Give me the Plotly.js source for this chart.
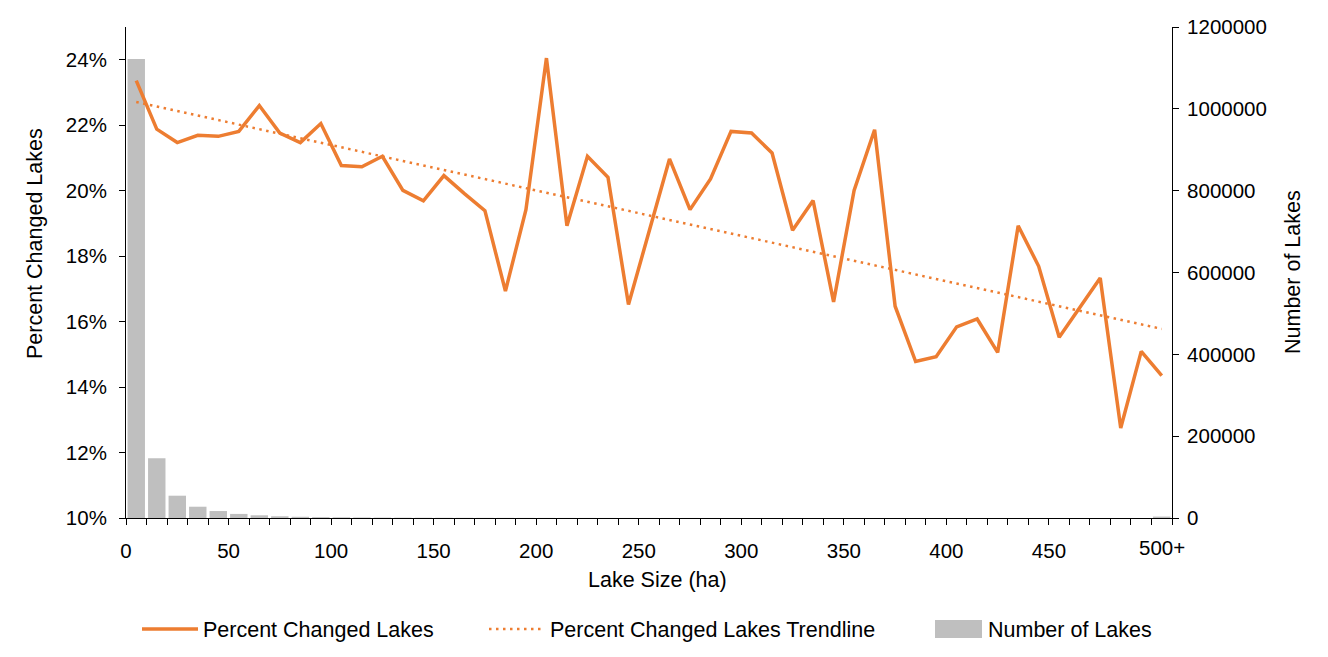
<!DOCTYPE html>
<html>
<head>
<meta charset="utf-8">
<script src="https://cdn.plot.ly/plotly-3.0.1.min.js"></script>
<style>
  html, body { margin: 0; padding: 0; background: #fff; }
  #chart { width: 1328px; height: 657px; }
</style>
</head>
<body>
<div id="chart"></div>
<script>
// ---- Data ----
// Lake size bins (ha): bin centres; last bin is "500+"
const binCenters = [5, 15, 25, 35, 45, 55, 65, 75, 85, 95,
  105, 115, 125, 135, 145, 155, 165, 175, 185, 195,
  205, 215, 225, 235, 245, 255, 265, 275, 285, 295,
  305, 315, 325, 335, 345, 355, 365, 375, 385, 395,
  405, 415, 425, 435, 445, 455, 465, 475, 485, 495, 505];

// Percent of lakes changed (%)
const percentChanged = [23.36, 21.88, 21.47, 21.69, 21.66, 21.81, 22.60, 21.76, 21.47, 22.05,
  20.77, 20.73, 21.05, 20.01, 19.69, 20.46, 19.91, 19.39, 16.93, 19.42,
  24.05, 18.93, 21.05, 20.41, 16.52, 18.71, 20.97, 19.42, 20.36, 21.81,
  21.76, 21.15, 18.79, 19.70, 16.60, 20.01, 21.86, 16.47, 14.78, 14.93,
  15.84, 16.08, 15.06, 18.93, 17.69, 15.52, 16.41, 17.33, 12.75, 15.09, 14.35];

// Number of lakes per bin
const numberOfLakes = [1122000, 146000, 54500, 27600, 17000, 10000, 6600, 4200, 3000, 2200,
  1700, 1300, 1000, 800, 650, 550, 460, 390, 330, 280,
  240, 210, 185, 165, 150, 135, 122, 110, 100, 92,
  85, 78, 72, 67, 62, 58, 54, 50, 47, 44,
  41, 39, 37, 35, 33, 31, 29, 28, 27, 26, 3500];

// Axis tick labels
const xTickLabels = ['0', '50', '100', '150', '200', '250', '300', '350', '400', '450', '500+'];
const xTickPositions = [0, 50, 100, 150, 200, 250, 300, 350, 400, 450, 505];
const leftTickValues = [10, 12, 14, 16, 18, 20, 22, 24];
const leftTickLabels = ['10%', '12%', '14%', '16%', '18%', '20%', '22%', '24%'];
const rightTickValues = [0, 200000, 400000, 600000, 800000, 1000000, 1200000];
const rightTickLabels = ['0', '200000', '400000', '600000', '800000', '1000000', '1200000'];

const seriesNames = ['Percent Changed Lakes', 'Percent Changed Lakes Trendline', 'Number of Lakes'];
const axisTitles = {x: 'Lake Size (ha)', left: 'Percent Changed Lakes', right: 'Number of Lakes'};

// ---- Linear trendline (least squares over bin index, as a spreadsheet would) ----
const n = percentChanged.length;
let sx = 0, sy = 0, sxx = 0, sxy = 0;
for (let i = 0; i < n; i++) {
  const xi = i + 1, yi = percentChanged[i];
  sx += xi; sy += yi; sxx += xi * xi; sxy += xi * yi;
}
const slope = (n * sxy - sx * sy) / (n * sxx - sx * sx);
const intercept = (sy - slope * sx) / n;
const trendX = [binCenters[0], binCenters[n - 1]];
const trendY = [intercept + slope * 1, intercept + slope * n];

// ---- Layout geometry ----
const W = 1328, H = 657;
const M = {l: 126, r: 156, t: 27, b: 139};
const plotW = W - M.l - M.r, plotH = H - M.t - M.b;
const px2xpaper = p => (p - M.l) / plotW;
const py2ypaper = p => (H - M.b - p) / plotH;

// X ticks every 10 units; labels only where given (the "500+" label sits mid-bin)
const xMinorTicks = [];
for (let v = 0; v <= 510; v += 10) xMinorTicks.push(v);
const xTickText = xMinorTicks.map(v => {
  const idx = xTickPositions.indexOf(v);
  return idx >= 0 ? xTickLabels[idx] : '';
});

const FONT = 'Liberation Sans, Arial, Helvetica, sans-serif';
const TICK_SIZE = 20.5, TITLE_SIZE = 21.5;
const ORANGE = '#ED7D31', GRAY = '#BFBFBF';

const traces = [
  {
    type: 'bar', name: seriesNames[2], x: binCenters, y: numberOfLakes,
    xaxis: 'x', yaxis: 'y', width: 8.5, legend: 'legend3',
    marker: {color: GRAY, line: {width: 0}}, hoverinfo: 'skip'
  },
  {
    type: 'scatter', mode: 'lines', name: seriesNames[0], x: binCenters, y: percentChanged,
    xaxis: 'x', yaxis: 'y2', legend: 'legend', line: {color: ORANGE, width: 3.5}, hoverinfo: 'skip'
  },
  {
    type: 'scatter', mode: 'lines', name: seriesNames[1], x: trendX, y: trendY,
    xaxis: 'x', yaxis: 'y2', legend: 'legend2',
    line: {color: ORANGE, width: 2.5, dash: '2.5px,4.5px'}, hoverinfo: 'skip'
  }
];

const axisLine = {showline: true, linecolor: '#000', linewidth: 1, showgrid: false, zeroline: false,
  ticks: 'outside', ticklen: 6, tickcolor: '#000', tickwidth: 1, automargin: false};

const xUnlabeled = xTickPositions[xTickPositions.length - 1];
const lastLabel = xTickLabels[xTickLabels.length - 1];

const ITEMW = 56;
const LEGEND_Y = 629;
const legendAt = (textStartPx) => ({
  orientation: 'h', xref: 'container', yref: 'container',
  x: (textStartPx - 41 - (ITEMW - 30)) / W, xanchor: 'left', y: 1 - LEGEND_Y / H, yanchor: 'middle',
  font: {size: TITLE_SIZE}, bgcolor: 'rgba(0,0,0,0)', borderwidth: 0, itemwidth: ITEMW
});

const layout = {
  width: W, height: H,
  margin: M,
  paper_bgcolor: '#fff', plot_bgcolor: '#fff',
  font: {family: FONT, color: '#000', size: TICK_SIZE},
  showlegend: true,
  barmode: 'overlay',
  xaxis: Object.assign({}, axisLine, {
    range: [0, 510], tickmode: 'array', tickvals: xMinorTicks, ticktext: xTickText,
    tickfont: {size: TICK_SIZE}, ticklabelstandoff: 8
  }),
  yaxis: Object.assign({}, axisLine, {
    side: 'right', range: [0, 1200000], tickmode: 'array', tickvals: rightTickValues,
    ticktext: rightTickLabels, tickfont: {size: TICK_SIZE}, ticklabelstandoff: 4
  }),
  yaxis2: Object.assign({}, axisLine, {
    side: 'left', overlaying: 'y', range: [10, 25], tickmode: 'array', tickvals: leftTickValues,
    ticktext: leftTickLabels, tickfont: {size: TICK_SIZE}, ticklabelstandoff: 8
  }),
  legend: legendAt(204),
  legend2: legendAt(551),
  legend3: legendAt(989),
  // wide swatch for the bar legend entry (spreadsheet-style legend key)
  shapes: [
    {type: 'rect', xref: 'paper', yref: 'paper', layer: 'below',
      x0: px2xpaper(935), x1: px2xpaper(982), y0: py2ypaper(LEGEND_Y + 9), y1: py2ypaper(LEGEND_Y - 9),
      fillcolor: GRAY, line: {width: 0}}
  ],
  annotations: [
    {text: lastLabel, x: xUnlabeled, xref: 'x', y: 0, yref: 'paper', yanchor: 'middle',
      yshift: -29, showarrow: false, font: {size: TICK_SIZE}},
    {text: axisTitles.x, x: px2xpaper(657), xref: 'paper', y: py2ypaper(580), yref: 'paper',
      xanchor: 'center', yanchor: 'middle', showarrow: false, font: {size: TITLE_SIZE}},
    {text: axisTitles.left, x: px2xpaper(35), xref: 'paper', y: py2ypaper(244), yref: 'paper',
      xanchor: 'center', yanchor: 'middle', textangle: -90, showarrow: false, font: {size: TITLE_SIZE}},
    {text: axisTitles.right, x: px2xpaper(1293), xref: 'paper', y: py2ypaper(272), yref: 'paper',
      xanchor: 'center', yanchor: 'middle', textangle: -90, showarrow: false, font: {size: TITLE_SIZE}}
  ]
};

Plotly.newPlot('chart', traces, layout, {staticPlot: true, displayModeBar: false});
</script>
</body>
</html>
